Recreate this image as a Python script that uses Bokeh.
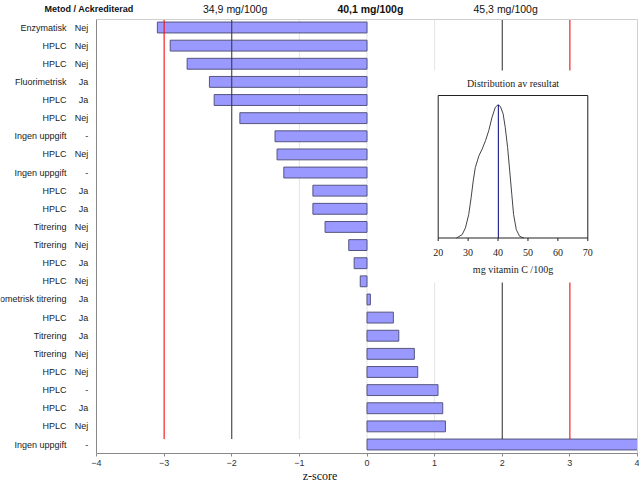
from bokeh.plotting import figure
from bokeh.models import Range1d, FixedTicker, ColumnDataSource
from bokeh.core.properties import value
from bokeh.embed import file_html
from bokeh.resources import INLINE

# ---------------- data ----------------
methods = ["Enzymatisk", "HPLC", "HPLC", "Fluorimetrisk", "HPLC", "HPLC",
           "Ingen uppgift", "HPLC", "Ingen uppgift", "HPLC", "HPLC", "Titrering",
           "Titrering", "HPLC", "HPLC", "Potentiometrisk titrering", "HPLC",
           "Titrering", "Titrering", "HPLC", "HPLC", "HPLC", "HPLC", "Ingen uppgift"]
accredited = ["Nej", "Nej", "Nej", "Ja", "Ja", "Nej", "-", "Nej", "-", "Ja", "Ja",
              "Nej", "Nej", "Ja", "Nej", "Ja", "Ja", "Ja", "Nej", "Nej", "-", "Ja",
              "Nej", "-"]
z_scores = [-3.10, -2.91, -2.66, -2.33, -2.26, -1.88, -1.36, -1.33, -1.23, -0.80,
            -0.80, -0.62, -0.27, -0.19, -0.10, 0.05, 0.39, 0.47, 0.70, 0.75, 1.05,
            1.12, 1.16, 4.40]
x_ticks = [-4, -3, -2, -1, 0, 1, 2, 3, 4]
warn_z = [-2, 2]
action_z = [-3, 3]
top_positions = [-2, 0, 2]
top_labels = ["34,9 mg/100g", "40,1 mg/100g", "45,3 mg/100g"]
top_styles = ["normal", "bold", "normal"]

dist_x = [26.1, 28.0, 29.1, 30.2, 31.0, 31.7, 32.4, 33.6, 34.7, 35.8, 36.9, 38.0,
          39.1, 40.0, 40.8, 41.7, 42.4, 43.2, 43.9, 44.6, 45.2, 46.1, 47.2, 48.6]
dist_y = [0.0, 0.025, 0.076, 0.176, 0.302, 0.428, 0.529, 0.617, 0.668, 0.730,
          0.806, 0.907, 0.982, 1.0, 0.987, 0.932, 0.831, 0.680, 0.504, 0.327,
          0.176, 0.063, 0.013, 0.0]
dist_mean = 40.1
dist_ticks = [20, 30, 40, 50, 60, 70]

# ---------------- layout constants (pixels) ----------------
W, H = 639, 485
AXB = 32                      # room for the x axis below the frame
FB = H - AXB                  # frame bottom (frame spans the full width)
PL, PR, PT = 96, 637, 19      # plot-area edges
n = len(methods)
rows = list(range(1, n + 1))
row_px0, row_px1 = 27.0, 444.0
row_gap = (row_px1 - row_px0) / (n - 1)
pxu = (PR - PL) / 8.0
x_min, x_max = x_ticks[0], x_ticks[-1]


def zx(px):
    return -4 + (px - PL) / pxu


def ry(py):
    return 1 + (py - row_px0) / row_gap


p = figure(width=W, height=H, x_range=Range1d(zx(0), zx(W)), y_range=Range1d(ry(FB), ry(0)),
           min_border_left=0, min_border_right=0, min_border_top=0,
           min_border_bottom=AXB, output_backend="svg", toolbar_location=None,
           background_fill_color="white", border_fill_color="white")
p.outline_line_color = None
p.xgrid.grid_line_color = None
p.ygrid.grid_line_color = None
p.yaxis.visible = False

p.xaxis.ticker = FixedTicker(ticks=x_ticks)
p.xaxis.bounds = (x_min, x_max)
p.xaxis.axis_line_color = "#888888"
p.xaxis.major_tick_line_color = "#888888"
p.xaxis.major_tick_out = 3
p.xaxis.major_tick_in = 0
p.xaxis.minor_tick_line_color = None
p.xaxis.major_label_text_font = "Liberation Sans"
p.xaxis.major_label_text_font_size = "9px"
p.xaxis.major_label_text_color = "#333333"
p.xaxis.major_label_standoff = 3
p.xaxis.axis_label = "z-score"
p.xaxis.axis_label_text_font = "Liberation Serif"
p.xaxis.axis_label_text_font_size = "12px"
p.xaxis.axis_label_text_font_style = "normal"
p.xaxis.axis_label_text_color = "#111111"
p.xaxis.axis_label_standoff = 0

y_top = ry(PT)
y_bottom = ry(FB)
line_end = n - 0.3

# gridlines
inner = x_ticks[1:-1]
p.segment(x0=inner, y0=[y_top] * len(inner), x1=inner, y1=[line_end] * len(inner),
          line_color="#e4e4e4", line_width=1)

# bars (the plot area ends at z = 4, longer bars are cut there as in the original)
src = ColumnDataSource(dict(y=rows, z=[min(v, x_max) for v in z_scores], m=methods,
                            a=accredited, xm=[zx(66)] * n, xa=[zx(87.7)] * n))
p.hbar(y="y", left=0, right="z", height=0.6, source=src,
       fill_color="#9999ff", line_color="#55557f", line_width=1)

# reference lines
p.segment(x0=action_z, y0=[y_top] * 2, x1=action_z, y1=[line_end] * 2,
          line_color="#ff0000", line_width=1)
p.segment(x0=warn_z, y0=[y_top] * 2, x1=warn_z, y1=[line_end] * 2,
          line_color="#333333", line_width=1)

# plot-area border (top / right light, left darker)
p.segment(x0=[x_min], y0=[y_top], x1=[x_max], y1=[y_top], line_color="#cfcfcf", line_width=1)
p.segment(x0=[x_max], y0=[y_top], x1=[x_max], y1=[y_bottom], line_color="#cfcfcf", line_width=1)
p.segment(x0=[x_min], y0=[y_top], x1=[x_min], y1=[y_bottom], line_color="#888888", line_width=1)

# category labels
lab_kw = dict(text_baseline="middle", text_font=value("Liberation Sans"),
              text_font_size=value("9px"), text_color="#222222")
p.text(x="xm", y="y", text="m", source=src, text_align="right", **lab_kw)
p.text(x="xa", y="y", text="a", source=src, text_align="right", **lab_kw)

# top labels
p.text(x=[zx(88.5)], y=[ry(8)], text=["Metod / Ackrediterad"], text_align="center",
       text_baseline="middle", text_font=value("Liberation Sans"),
       text_font_size=value("9px"), text_font_style="bold", text_color="#111111")
for xp, lab, st in zip(top_positions, top_labels, top_styles):
    p.text(x=[xp + 0.05], y=[ry(8)], text=[lab], text_align="center",
           text_baseline="middle", text_font=value("Liberation Sans"),
           text_font_size=value("10.5px"), text_font_style=st, text_color="#111111")

# ---------------- inset: distribution ----------------
p.quad(left=[zx(432)], right=[zx(633)], top=[ry(70)], bottom=[ry(282)],
       fill_color="white", line_color=None)

bx0, bx1, by0, bpk = 437.7, 587.3, 237.5, 104.3
dxu = (bx1 - bx0) / 50.0
dyu = by0 - bpk
p.extra_x_ranges = {"dx": Range1d(20 - bx0 / dxu, 70 + (W - bx1) / dxu)}
p.extra_y_ranges = {"dy": Range1d(-(FB - by0) / dyu, 1 + bpk / dyu)}
box_top = 1 + (bpk - 95) / dyu

kw = dict(x_range_name="dx", y_range_name="dy")
serif = dict(text_align="center", text_baseline="middle",
             text_font=value("Liberation Serif"), text_font_size=value("10px"),
             text_color="#222222")
p.line(dist_x, dist_y, line_color="#444444", line_width=1, **kw)
p.segment(x0=[dist_mean], y0=[0], x1=[dist_mean], y1=[1.0], line_color="#000080",
          line_width=1, **kw)
p.quad(left=[20], right=[70], bottom=[0], top=[box_top], fill_color=None,
       line_color="#222222", line_width=1, **kw)
p.segment(x0=dist_ticks, y0=[0] * 6, x1=dist_ticks, y1=[-3 / dyu] * 6,
          line_color="#222222", line_width=1, **kw)
p.text(x=dist_ticks, y=[-(251.5 - by0) / dyu] * 6, text=[str(t) for t in dist_ticks],
       **serif, **kw)
p.text(x=[45], y=[-(269 - by0) / dyu], text=["mg vitamin C /100g"], **serif, **kw)
p.text(x=[45], y=[1 + (bpk - 83) / dyu], text=["Distribution av resultat"], **serif, **kw)

open("out.html", "w").write(file_html(p, INLINE))
